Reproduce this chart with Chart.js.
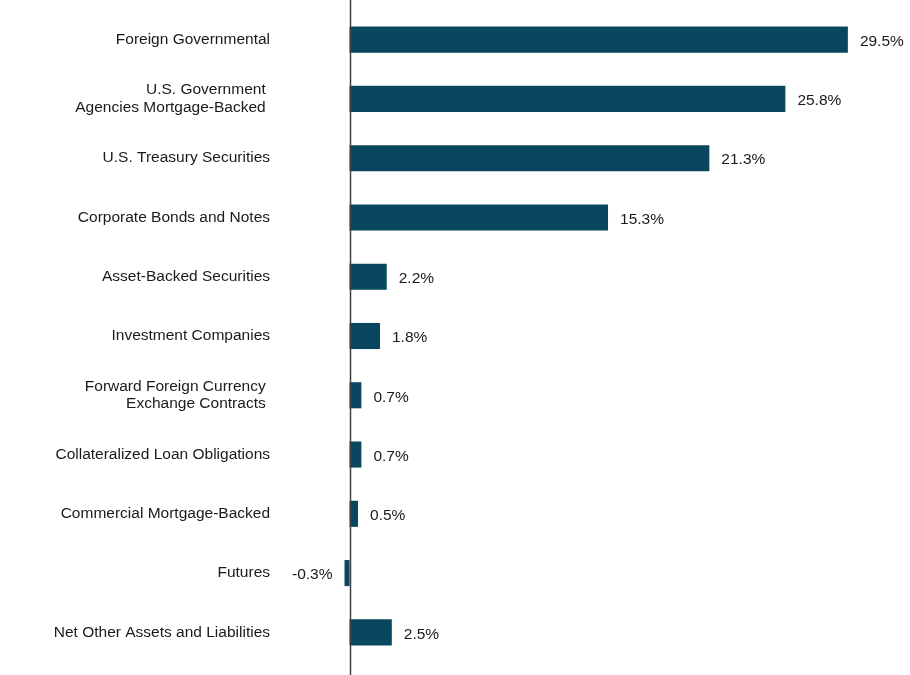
<!DOCTYPE html>
<html>
<head>
<meta charset="utf-8">
<script src="https://cdn.jsdelivr.net/npm/chart.js@4.4.1/dist/chart.umd.min.js"></script>
<style>
  html, body { margin: 0; padding: 0; background: #fff; }
  #wrap { width: 910px; height: 675px; position: relative; }
</style>
</head>
<body>
<div id="wrap"><canvas id="chart"></canvas></div>
<script>
// Dados do gráfico
const categorias = [
  'Foreign Governmental',
  ['U.S. Government ', 'Agencies Mortgage-Backed '],
  'U.S. Treasury Securities',
  'Corporate Bonds and Notes',
  'Asset-Backed Securities',
  'Investment Companies',
  ['Forward Foreign Currency ', 'Exchange Contracts '],
  'Collateralized Loan Obligations',
  'Commercial Mortgage-Backed',
  'Futures',
  'Net Other Assets and Liabilities'
];
const valores = [29.5, 25.8, 21.3, 15.3, 2.2, 1.8, 0.7, 0.7, 0.5, -0.3, 2.5];

const corBarra = '#08475e';
const fonte = '"Liberation Sans Narrow", "Arial Narrow", "Liberation Sans", Arial, sans-serif';

// Linha do zero ocupando toda a altura
const linhaZero = {
  id: 'linhaZero',
  afterDatasetsDraw(chart) {
    const ctx = chart.ctx;
    const x = Math.round(chart.scales.x.getPixelForValue(0)) + 0.5;
    ctx.save();
    ctx.strokeStyle = '#404040';
    ctx.lineWidth = 1.5;
    ctx.beginPath();
    ctx.moveTo(x, 0);
    ctx.lineTo(x, chart.height);
    ctx.stroke();
    ctx.restore();
  }
};

// Rótulos de valor ao lado das barras
const rotulos = {
  id: 'rotulos',
  afterDatasetsDraw(chart) {
    const ctx = chart.ctx;
    const meta = chart.getDatasetMeta(0);
    ctx.save();
    ctx.font = '15.5px ' + fonte;
    ctx.fillStyle = '#1a1a1a';
    ctx.textBaseline = 'middle';
    meta.data.forEach((bar, i) => {
      const v = valores[i];
      const txt = v.toFixed(1) + '%';
      if (v >= 0) {
        ctx.textAlign = 'left';
        ctx.fillText(txt, bar.x + 12, bar.y + 2);
      } else {
        ctx.textAlign = 'right';
        ctx.fillText(txt, bar.x - 12, bar.y + 2);
      }
    });
    ctx.restore();
  }
};

new Chart(document.getElementById('chart'), {
  type: 'bar',
  data: {
    labels: categorias,
    datasets: [{
      data: valores,
      backgroundColor: corBarra,
      barPercentage: 0.44,
      categoryPercentage: 1
    }]
  },
  options: {
    indexAxis: 'y',
    responsive: true,
    maintainAspectRatio: false,
    animation: false,
    layout: { padding: { top: 10, bottom: 13, left: 0, right: 3 } },
    plugins: {
      legend: { display: false },
      tooltip: { enabled: false }
    },
    scales: {
      x: {
        display: false,
        min: -4,
        max: 33
      },
      y: {
        grid: { display: false, drawTicks: false },
        border: { display: false },
        afterFit(scale) {
          scale.width = 282;
          scale.paddingTop = 0;
          scale.paddingBottom = 0;
        },
        ticks: {
          padding: 12,
          color: '#1a1a1a',
          font: { family: fonte, size: 15.5, lineHeight: 1.15 }
        }
      }
    }
  },
  plugins: [linhaZero, rotulos]
});
</script>
</body>
</html>
